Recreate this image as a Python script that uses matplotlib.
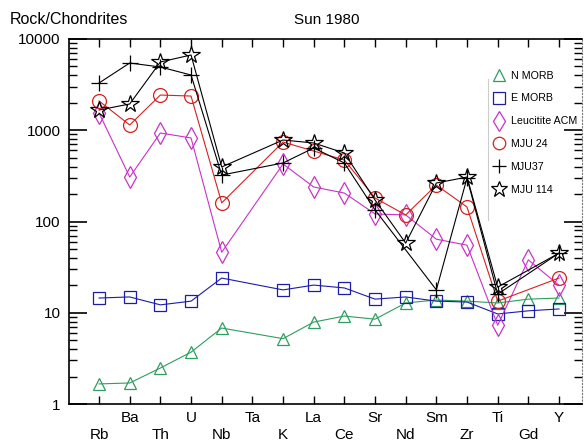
import numpy as np
import matplotlib
matplotlib.use("Agg")
import matplotlib.pyplot as plt
from matplotlib.lines import Line2D
from matplotlib.ticker import LogLocator, FixedLocator, NullFormatter

plt.rcParams['font.family'] = ['Liberation Sans', 'DejaVu Sans']

elements = ["Rb", "Ba", "Th", "U", "Nb", "Ta", "K", "La", "Ce", "Sr",
            "Nd", "Sm", "Zr", "Ti", "Gd", "Y"]
nan = np.nan
n_morb = [1.66, 1.70, 2.48, 3.7, 6.8, nan, 5.2, 7.9, 9.2, 8.5, 12.8, 13.8, 13.4, 12.8, 14.1, 14.5]
e_morb = [14.5, 14.9, 12.2, 13.4, 24.0, nan, 17.8, 20.1, 18.7, 14.1, 14.9, 13.4, 13.1, 9.7, 10.5, 11.0]
leucitite = [1545, 307, 933, 823, 46, nan, 427, 239, 205, 121, 118, 64, 55, 7.3, 38, 20]
mju24 = [2093, 1142, 2432, 2370, 160, nan, 743, 592, 472, 181, 118, 251, 144, 13.4, nan, 24]
mju37 = [3296, 5457, 4933, 4030, 323, nan, 438, 639, 438, 134, nan, 17.8, 300, 16, nan, 45]
mju114 = [1667, 1940, 5600, 6680, 396, nan, 782, 725, 563, 172, 58, 264, 307, 19.1, nan, 45]

series = [
    ("N MORB", n_morb, dict(color="#2e9e5e", marker="^", ms=9)),
    ("E MORB", e_morb, dict(color="#1c1ca8", marker="s", ms=9)),
    ("Leucitite ACM", leucitite, dict(color="#c832c8", marker="d", ms=11)),
    ("MJU 24", mju24, dict(color="#d82020", marker="o", ms=10)),
    ("MJU37", mju37, dict(color="#000000", marker="+", ms=11)),
    ("MJU 114", mju114, dict(color="#000000", marker="*", ms=13)),
]

fig = plt.figure(figsize=(5.85, 4.43), dpi=100)
ax = fig.add_axes([69/585, 1-404/443, (582-69)/585, (404-39)/443])

x = np.arange(len(elements))
handles = []
for name, vals, st in series:
    v = np.array(vals, dtype=float)
    m = ~np.isnan(v)
    ax.plot(x[m], v[m], color=st["color"], lw=0.8, marker=st["marker"],
            ms=st["ms"], mfc="none", mec=st["color"], mew=0.9)
    handles.append(Line2D([], [], ls="none", color=st["color"], marker=st["marker"],
                          ms=st["ms"]*0.9, mfc="none", mec=st["color"], mew=0.9, label=name))

ax.set_yscale("log")
ax.set_ylim(1, 10000)
ax.set_xlim(-0.98, 15.75)

ax.yaxis.set_major_locator(FixedLocator([1, 10, 100, 1000, 10000]))
ax.yaxis.set_minor_locator(LogLocator(base=10, subs=np.arange(2, 10)))
ax.yaxis.set_minor_formatter(NullFormatter())
ax.set_yticklabels(["1", "10", "100", "1000", "10000"], fontsize=11)
ax.tick_params(axis="y", which="major", direction="in", length=13, width=1.2,
               right=True, pad=6)
ax.tick_params(axis="y", which="minor", direction="in", length=6, width=1.0, right=True)

ax.set_xticks(x)
ax.set_xticklabels([])
ax.tick_params(axis="x", which="major", direction="in", length=6, width=1.0, top=True)
for i, e in enumerate(elements):
    ypos = -0.038 if i % 2 == 1 else -0.085
    ax.text(x[i], ypos, e, transform=ax.get_xaxis_transform(), ha="center",
            va="center", fontsize=11)

for s in ["left", "bottom", "top"]:
    ax.spines[s].set_linewidth(1.2)
ax.spines["right"].set_linestyle((0, (1, 2)))
ax.spines["right"].set_color("#777777")
ax.spines["right"].set_linewidth(0.8)

fig.text(10/585, 1-20/443, "Rock/Chondrites", fontsize=11.5, ha="left", va="center")
fig.text(327/585, 1-20/443, "Sun 1980", fontsize=11, ha="center", va="center")

leg = ax.legend(handles=handles, loc="upper left", bbox_to_anchor=(0.818, 0.925),
                frameon=False, fontsize=7.7, handlelength=1.2, handletextpad=0.45,
                labelspacing=1.2, borderaxespad=0)
ax.add_line(Line2D([0.817, 0.817], [0.504, 0.89], transform=ax.transAxes,
                   color="#cccccc", lw=0.8))

fig.savefig("out.png", dpi=100)
